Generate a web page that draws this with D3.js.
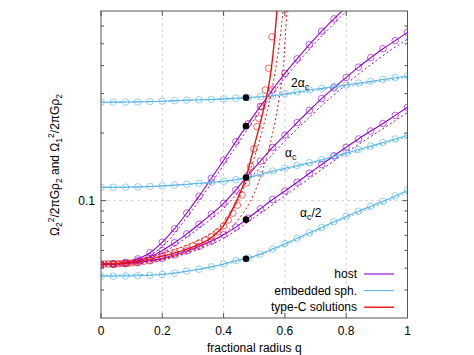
<!doctype html>
<html lang="en">
<head>
<meta charset="utf-8">
<title>host and embedded spheroids</title>
<style>
    body { margin: 0; background: #fff; }
    svg text { font-family: "Liberation Sans", Arial, sans-serif; font-size: 12px; fill: #000; }
</style>
</head>
<body>
<svg id="chart" width="474" height="355"></svg>
<script src="https://d3js.org/d3.v7.min.js"></script>
<script>

    // q values of the open circles (host and embedded curves)
    let qGrid = [0, 0.04, 0.08, 0.12, 0.16, 0.20, 0.24, 0.28, 0.32, 0.36, 0.40, 0.44, 0.48,
        0.52, 0.56, 0.60, 0.64, 0.68, 0.72, 0.76, 0.80, 0.84, 0.88, 0.92, 0.96, 1.00];

    // host, solid lines (2 alpha_c, alpha_c, alpha_c/2)
    let host2a = [0.0520, 0.0522, 0.0531, 0.0550, 0.0586, 0.0653, 0.0750, 0.0881, 0.1047, 0.1259, 0.1514, 0.1832, 0.2203,
        0.2630, 0.3126, 0.3690, 0.4285, 0.4955, 0.5689, 0.6457, 0.7295, 0.8222];
    let hostA = [0.0520, 0.0521, 0.0526, 0.0540, 0.0562, 0.0600, 0.0649, 0.0711, 0.0785, 0.0871, 0.0973, 0.1117, 0.1300,
        0.1500, 0.1726, 0.1959, 0.2228, 0.2523, 0.2851, 0.3184, 0.3540, 0.3936, 0.4335, 0.4753, 0.5164, 0.5623];
    let hostA2 = [0.0520, 0.0521, 0.0524, 0.0530, 0.0540, 0.0553, 0.0573, 0.0597, 0.0625, 0.0661, 0.0705, 0.0762, 0.0836,
        0.0920, 0.1012, 0.1104, 0.1208, 0.1324, 0.1449, 0.1585, 0.1730, 0.1884, 0.2042, 0.2208, 0.2399, 0.2606];

    // embedded spheroid, solid lines
    let emb2a = [0.2746, 0.2747, 0.2750, 0.2755, 0.2763, 0.2775, 0.2790, 0.2805, 0.2815, 0.2828, 0.2840, 0.2860, 0.2882,
        0.2905, 0.2935, 0.2990, 0.3050, 0.3113, 0.3165, 0.3220, 0.3278, 0.3340, 0.3400, 0.3465, 0.3530, 0.3594];
    let embA = [0.1146, 0.1147, 0.1149, 0.1152, 0.1157, 0.1164, 0.1173, 0.1184, 0.1195, 0.1207, 0.1220, 0.1240, 0.1270,
        0.1310, 0.1355, 0.1395, 0.1435, 0.1475, 0.1521, 0.1575, 0.1629, 0.1690, 0.1750, 0.1815, 0.1883, 0.1951];
    let embA2 = [0.0461, 0.0461, 0.0462, 0.0463, 0.0465, 0.0469, 0.0475, 0.0485, 0.0495, 0.0507, 0.0522, 0.0541, 0.0556,
        0.0578, 0.0610, 0.0643, 0.0680, 0.0719, 0.0760, 0.0805, 0.0851, 0.0897, 0.0943, 0.0993, 0.1050, 0.1111];

    // dotted companions, read every 0.1 in q
    let qCoarse = [0, 0.1, 0.2, 0.3, 0.4, 0.5, 0.6, 0.7, 0.8, 0.9, 1.0];
    let host2aDot = [0.0520, 0.0532, 0.0625, 0.0915, 0.1440, 0.2300, 0.3520, 0.5060, 0.6970, 0.9500];
    let hostADot = [0.0520, 0.0530, 0.0585, 0.0720, 0.0925, 0.1315, 0.1840, 0.2500, 0.3300, 0.4230, 0.5250];
    let hostA2Dot = [0.0520, 0.0525, 0.0545, 0.0595, 0.0680, 0.0840, 0.1050, 0.1315, 0.1640, 0.2010, 0.2470];
    let emb2aDot = [0.2746, 0.2750, 0.2770, 0.2802, 0.2830, 0.2875, 0.2960, 0.3100, 0.3235, 0.3385, 0.3545];
    let embADot = [0.1146, 0.1149, 0.1161, 0.1185, 0.1213, 0.1278, 0.1378, 0.1477, 0.1605, 0.1755, 0.1920];
    let embA2Dot = [0.0466, 0.0467, 0.0472, 0.0490, 0.0519, 0.0561, 0.0634, 0.0727, 0.0837, 0.0950, 0.1090];

    // type-C solutions (red)
    let typeCq = [0, 0.05, 0.1, 0.15, 0.2, 0.25, 0.3, 0.36, 0.4, 0.44, 0.473, 0.5, 0.53, 0.552, 0.565, 0.574, 0.578];
    let typeCv = [0.0522, 0.0524, 0.0530, 0.0545, 0.0566, 0.0590, 0.0622, 0.0685, 0.0775, 0.0985, 0.1269, 0.1755, 0.2537,
        0.3557, 0.5037, 0.6990, 0.8000];
    let typeCDotAq = [0, 0.1, 0.2, 0.3, 0.4, 0.45, 0.5, 0.53, 0.56, 0.58, 0.595, 0.607, 0.612];
    let typeCDotAv = [0.0512, 0.0518, 0.0550, 0.0600, 0.0710, 0.0830, 0.1080, 0.1400, 0.2000, 0.2800, 0.4000, 0.7000, 0.8500];
    let typeCDotBq = [0, 0.1, 0.2, 0.3, 0.36, 0.4, 0.44, 0.47, 0.5, 0.53, 0.555, 0.575, 0.59, 0.596];
    let typeCDotBv = [0.0532, 0.0541, 0.0585, 0.0650, 0.0715, 0.0800, 0.0960, 0.1180, 0.1550, 0.2150, 0.3000, 0.4300, 0.6200, 0.7500];
    let typeCMarkQ = [0, 0.012, 0.024, 0.036, 0.048, 0.06, 0.075, 0.09, 0.105, 0.12, 0.14, 0.16, 0.18, 0.2, 0.22, 0.24,
        0.26, 0.28, 0.3, 0.32, 0.34, 0.36, 0.38, 0.4, 0.415, 0.43, 0.445, 0.46, 0.475, 0.488, 0.499, 0.509, 0.514, 0.525, 0.536, 0.547, 0.558];
    let typeCMarkV = [0.0522, 0.0522, 0.0522, 0.0523, 0.0523, 0.0524, 0.0525, 0.0527, 0.0529, 0.0532, 0.0537, 0.0543, 0.0551,
        0.0562, 0.0573, 0.0585, 0.0598, 0.0612, 0.0628, 0.0648, 0.0668, 0.0692, 0.0725, 0.0770, 0.0820, 0.0880, 0.0955, 0.1060,
        0.1200, 0.1420, 0.1700, 0.2138, 0.2331, 0.2626, 0.3110, 0.3890, 0.5370];

    // black dots where the curves are marked at q = 0.473
    let dotQ = 0.473;
    let dotV = [0.2878, 0.2148, 0.1269, 0.0823, 0.0551];

    let xTicks = [0, 0.2, 0.4, 0.6, 0.8, 1];
    let xTickLabels = ["0", "0.2", "0.4", "0.6", "0.8", "1"];
    let yMinor = [0.04, 0.05, 0.06, 0.07, 0.08, 0.09, 0.2, 0.3, 0.4, 0.5, 0.6];

    let purple = "#9400d3", blue = "#56b4e9", red = "#ee1111";

    let svg = d3.select("#chart");
    let pLeft = 101, pRight = 407.5, pTop = 11, pBottom = 318;

    let x = d3.scaleLinear().domain([0, 1]).range([pLeft, pRight]);
    let y = d3.scaleLog().domain([0.03, 0.7]).range([pBottom, pTop]);

    svg.append("defs").append("clipPath").attr("id", "plotclip")
        .append("rect").attr("x", pLeft).attr("y", pTop).attr("width", pRight - pLeft).attr("height", pBottom - pTop);

    // grid
    let grid = svg.append("g");
    grid.selectAll("line.gx").data(xTicks.slice(1, -1)).enter().append("line")
        .attr("x1", d => x(d)).attr("x2", d => x(d)).attr("y1", pTop).attr("y2", pBottom)
        .attr("stroke", "#c8c8c8").attr("stroke-width", 0.8).attr("stroke-dasharray", "3,3");
    grid.append("line")
        .attr("x1", pLeft).attr("x2", pRight).attr("y1", y(0.1)).attr("y2", y(0.1))
        .attr("stroke", "#c8c8c8").attr("stroke-width", 0.8).attr("stroke-dasharray", "3,3");

    let plot = svg.append("g").attr("clip-path", "url(#plotclip)");

    let lineQV = function (qs) {
        return d3.line().x((d, i) => x(qs[i])).y(d => y(d)).curve(d3.curveMonotoneX);
    };

    function drawSeries(qs, vs, color, width, dash) {
        plot.append("path").datum(vs)
            .attr("d", lineQV(qs))
            .attr("fill", "none").attr("stroke", color)
            .attr("stroke-width", width)
            .attr("stroke-dasharray", dash || null);
    }

    function drawMarks(qs, vs, color) {
        plot.append("g").selectAll("circle").data(vs).enter().append("circle")
            .attr("cx", (d, i) => x(qs[i])).attr("cy", d => y(d)).attr("r", 3.3)
            .attr("fill", "none").attr("stroke", color).attr("stroke-width", 0.9).attr("stroke-opacity", 0.7);
    }

    let families = [
        [host2a, host2aDot, purple], [hostA, hostADot, purple], [hostA2, hostA2Dot, purple],
        [emb2a, emb2aDot, blue], [embA, embADot, blue], [embA2, embA2Dot, blue]
    ];
    families.forEach(function (f) {
        drawSeries(qCoarse.slice(0, f[1].length), f[1], f[2], 1, "2,2.5");
    });
    families.forEach(function (f) {
        drawSeries(qGrid.slice(0, f[0].length), f[0], f[2], 1.1);
        drawMarks(qGrid.slice(0, f[0].length), f[0], f[2]);
    });

    drawSeries(typeCDotAq, typeCDotAv, red, 1, "2,2.5");
    drawSeries(typeCDotBq, typeCDotBv, red, 1, "2,2.5");
    drawMarks(typeCMarkQ, typeCMarkV, red);
    drawSeries(typeCq, typeCv, red, 1.4);

    plot.append("g").selectAll("circle").data(dotV).enter().append("circle")
        .attr("cx", x(dotQ)).attr("cy", d => y(d)).attr("r", 3.3).attr("fill", "#000");

    // frame and ticks
    svg.append("rect").attr("x", pLeft).attr("y", pTop).attr("width", pRight - pLeft).attr("height", pBottom - pTop)
        .attr("fill", "none").attr("stroke", "#555").attr("stroke-width", 1);

    let ticks = svg.append("g").attr("stroke", "#555").attr("stroke-width", 1);
    xTicks.forEach(function (t) {
        ticks.append("line").attr("x1", x(t)).attr("x2", x(t)).attr("y1", pBottom).attr("y2", pBottom - 5);
        ticks.append("line").attr("x1", x(t)).attr("x2", x(t)).attr("y1", pTop).attr("y2", pTop + 5);
    });
    [[0.1, 5]].concat(yMinor.map(v => [v, 3])).forEach(function (t) {
        ticks.append("line").attr("x1", pLeft).attr("x2", pLeft + t[1]).attr("y1", y(t[0])).attr("y2", y(t[0]));
        ticks.append("line").attr("x1", pRight).attr("x2", pRight - t[1]).attr("y1", y(t[0])).attr("y2", y(t[0]));
    });

    svg.append("g").selectAll("text").data(xTicks).enter().append("text")
        .attr("x", d => x(d)).attr("y", 335).attr("text-anchor", "middle")
        .text((d, i) => xTickLabels[i]);
    svg.append("text").attr("x", pLeft - 6).attr("y", y(0.1) + 4).attr("text-anchor", "end").text("0.1");

    svg.append("text").attr("x", (pLeft + pRight) / 2).attr("y", 352).attr("text-anchor", "middle")
        .text("fractional radius q");

    // y label with sub/superscripts
    let yl = svg.append("text").attr("transform", "translate(59,165) rotate(-90)").attr("text-anchor", "middle");
    function piece(txt, shift, small) {
        let t = yl.append("tspan").text(txt);
        if (shift) t.attr("dy", shift);
        if (small) t.style("font-size", "8.5px");
    }
    piece("Ω");
    piece("2", 3, true);
    piece("2", -8, true);
    piece("/2πGρ", 5);
    piece("2", 3, true);
    piece(" and Ω", -3);
    piece("1", 3, true);
    piece("2", -8, true);
    piece("/2πGρ", 5);
    piece("2", 3, true);

    // curve labels
    function alphaLabel(px, py, pre, post) {
        let t = svg.append("text").attr("x", px).attr("y", py);
        t.append("tspan").text(pre + "α");
        t.append("tspan").text("c").attr("dy", 3).style("font-size", "9px");
        if (post) t.append("tspan").text(post).attr("dy", -3);
    }
    alphaLabel(291, 87, "2", "");
    alphaLabel(285, 157, "", "");
    alphaLabel(300, 217, "", "/2");

    // legend
    let legendNames = ["host", "embedded sph.", "type-C solutions"];
    let legendColors = [purple, blue, red];
    legendNames.forEach(function (n, i) {
        let ly = 274 + i * 16.6;
        svg.append("text").attr("x", 357).attr("y", ly + 4).attr("text-anchor", "end").text(n);
        svg.append("line").attr("x1", 364).attr("x2", 394).attr("y1", ly).attr("y2", ly)
            .attr("stroke", legendColors[i]).attr("stroke-width", i === 2 ? 1.4 : 1.1);
    });

</script>
</body>
</html>
